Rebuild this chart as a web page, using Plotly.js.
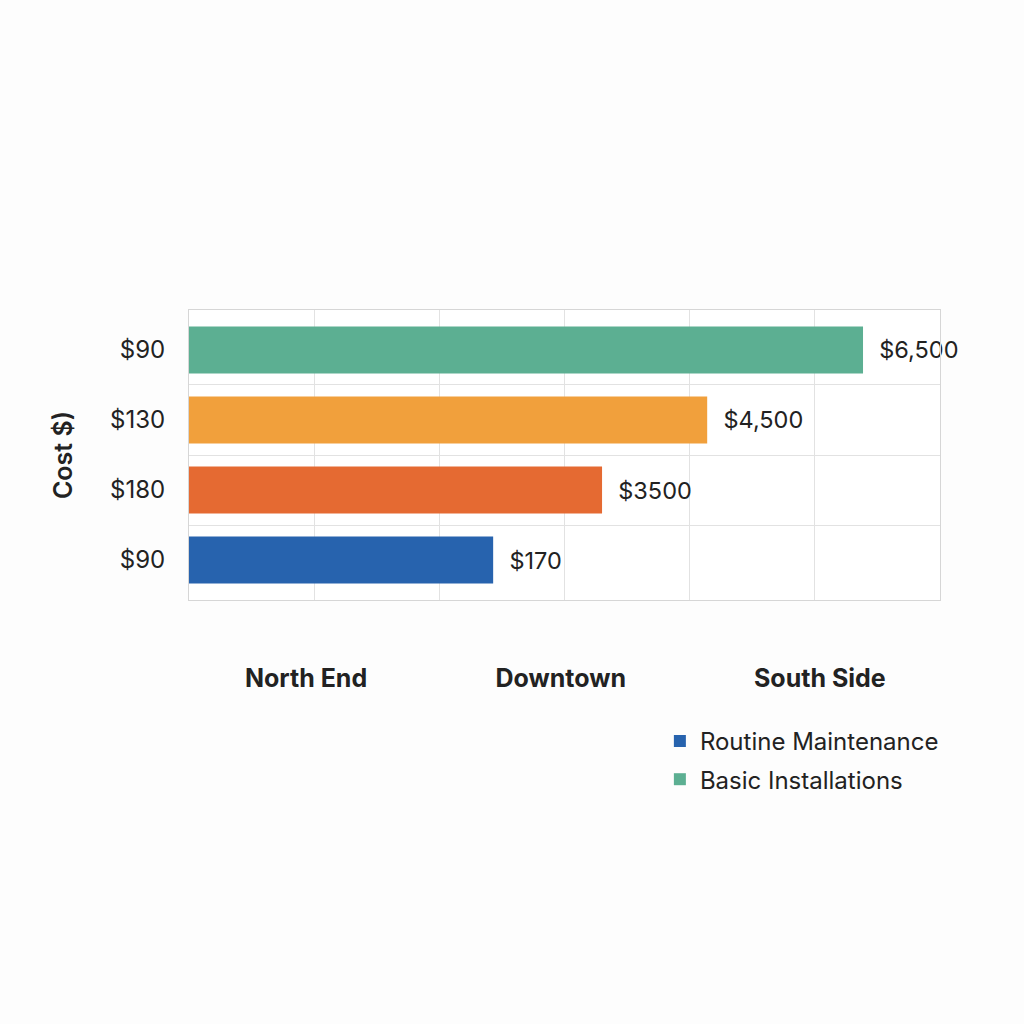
<!DOCTYPE html>
<html>
<head>
<meta charset="utf-8">
<script src="https://cdn.plot.ly/plotly-3.0.1.min.js"></script>
<style>
  html, body { margin: 0; padding: 0; background: #fdfdfd; }
  #plot { width: 1024px; height: 1024px; }
</style>
</head>
<body>
<div id="plot"></div>
<script>
// Rows from top to bottom
let rowLabels = ["$90", "$130", "$180", "$90"]
let barLengths = [5385, 4140, 3300, 2430]
let barTexts = ["$6,500", "$4,500", "$3500", "$170"]
let barColors = ["#5caf92", "#f1a03c", "#e56a32", "#2763ae"]
let legendNames = ["Basic Installations", null, null, "Routine Maintenance"]

// x axis category labels
let areaNames = ["North End", "Downtown", "South Side"]
let areaTicks = [935, 2970, 5040]

let data = []
for (let i = 0; i < barLengths.length; i++) {
  data.push({
    type: "bar",
    orientation: "h",
    x: [barLengths[i]],
    y: [i],
    width: 0.67,
    text: [barTexts[i]],
    texttemplate: "\u00a0\u00a0%{text}",
    textposition: "outside",
    cliponaxis: false,
    textfont: { family: "Inter, Roboto, sans-serif", size: 23.5, color: "#222" },
    marker: { color: barColors[i] },
    name: legendNames[i] || "",
    legendgroup: "g" + i,
    showlegend: legendNames[i] !== null,
    legendrank: i === 3 ? 1 : 2,
    hoverinfo: "none"
  });
}

let layout = {
  width: 1024,
  height: 1024,
  paper_bgcolor: "#fdfdfd",
  plot_bgcolor: "#ffffff",
  margin: { l: 189, r: 84, t: 310, b: 424 },
  barmode: "overlay",
  font: { family: "Inter, Roboto, sans-serif", color: "#222" },
  xaxis: {
    range: [0, 6000],
    tickvals: areaTicks,
    ticktext: areaNames,
    ticks: "",
    tickfont: { size: 25, weight: 700, color: "#222" },
    ticklabelstandoff: 56,
    showgrid: false,
    minor: { dtick: 1000, tick0: 0, showgrid: true, gridcolor: "#e2e2e2" },
    showline: true,
    mirror: true,
    linecolor: "#d6d6d6",
    zeroline: false,
    fixedrange: true
  },
  yaxis: {
    range: [3.571, -0.571],
    tickvals: [0, 1, 2, 3],
    ticktext: rowLabels,
    ticks: "",
    tickfont: { size: 24, color: "#222" },
    ticklabelstandoff: 18,
    showgrid: false,
    minor: { tickmode: "array", tickvals: [0.5, 1.5, 2.5], showgrid: true, gridcolor: "#e2e2e2" },
    showline: true,
    mirror: true,
    linecolor: "#d6d6d6",
    zeroline: false,
    title: { text: "Cost $)", font: { size: 25, weight: 600, color: "#222" }, standoff: 30 },
    fixedrange: true
  },
  showlegend: true,
  legend: {
    x: 0.627,
    y: -0.41,
    xanchor: "left",
    yanchor: "top",
    font: { size: 24, color: "#222" },
    bgcolor: "rgba(0,0,0,0)",
    tracegroupgap: 4
  }
};

Plotly.newPlot("plot", data, layout, { displayModeBar: false, staticPlot: true });
</script>
</body>
</html>
